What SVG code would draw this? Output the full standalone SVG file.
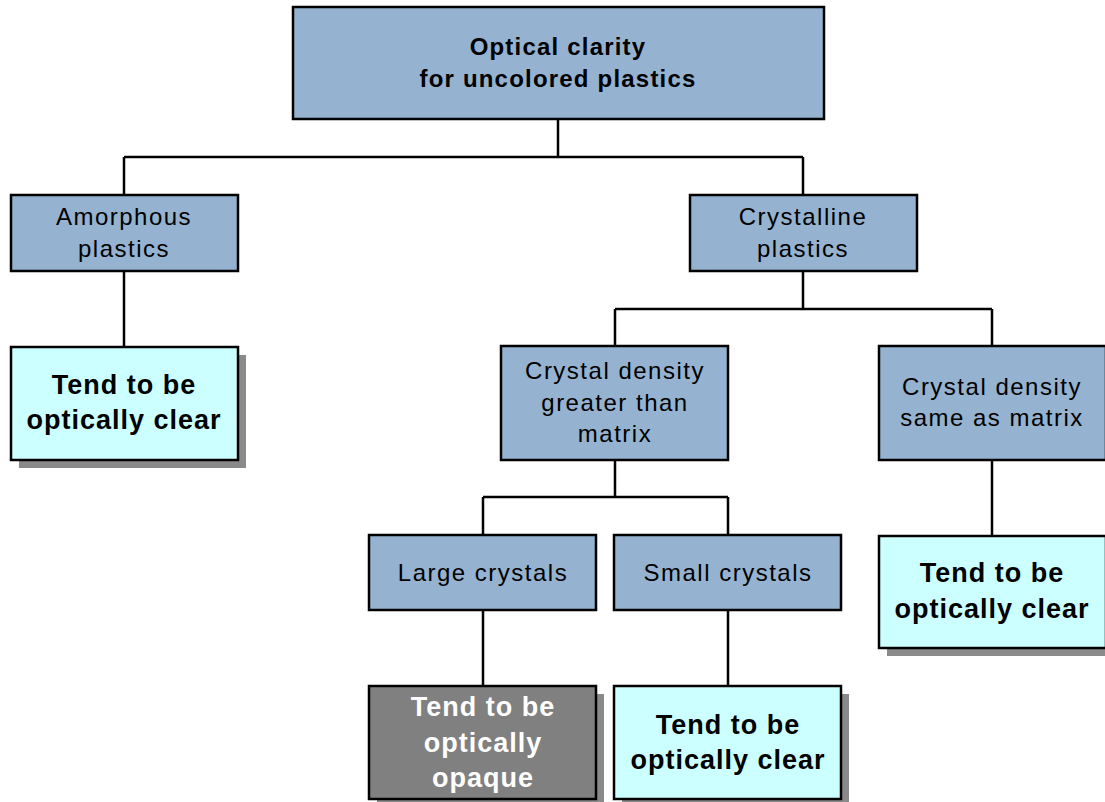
<svg xmlns="http://www.w3.org/2000/svg" width="1105" height="802" viewBox="0 0 1105 802">
<style>
.b{fill:#95b3d0;stroke:#000;stroke-width:2.5}
.c{fill:#ccffff;stroke:#000;stroke-width:2.5}
.o{fill:#808080;stroke:#000;stroke-width:2.5}
.s{fill:#8a8a8a}
.t{font-family:"Liberation Sans",Arial,sans-serif;font-size:24px;letter-spacing:1.5px;text-anchor:middle;fill:#000}
.tb{font-family:"Liberation Sans",Arial,sans-serif;font-size:24px;letter-spacing:1.2px;font-weight:bold;text-anchor:middle;fill:#000}
.tc{font-family:"Liberation Sans",Arial,sans-serif;font-size:27px;letter-spacing:1px;font-weight:bold;text-anchor:middle;fill:#000}
.tw{fill:#fff}
.l{fill:none;stroke:#000;stroke-width:2.5}
</style>
<rect width="1105" height="802" fill="#fff"/>
<g id="connectors">
<path class="l" d="M558 119V157M124 157H803M124 157V195M803 157V195"/>
<path class="l" d="M124 271V347"/>
<path class="l" d="M803 271V309M615 309H992M615 309V346M992 309V346"/>
<path class="l" d="M992 460V536"/>
<path class="l" d="M615 460V497M483 497H728M483 497V535M728 497V535"/>
<path class="l" d="M483 610V686M728 610V686"/>
</g>
<g id="root">
<rect class="b" x="293" y="7" width="531" height="112"/>
<text class="tb" x="558" y="55">Optical clarity</text>
<text class="tb" x="558" y="87">for uncolored plastics</text>
</g>
<g id="amorphous">
<rect class="b" x="11" y="195" width="227" height="76"/>
<text class="t" x="124" y="225">Amorphous</text>
<text class="t" x="124" y="257">plastics</text>
</g>
<g id="clear1">
<rect class="s" x="19" y="355" width="227" height="113"/>
<rect class="c" x="11" y="347" width="227" height="113"/>
<text class="tc" x="124" y="394">Tend to be</text>
<text class="tc" x="124" y="429">optically clear</text>
</g>
<g id="crystalline">
<rect class="b" x="690" y="195" width="227" height="76"/>
<text class="t" x="803" y="225">Crystalline</text>
<text class="t" x="803" y="257">plastics</text>
</g>
<g id="greater">
<rect class="b" x="501" y="346" width="227" height="114"/>
<text class="t" x="615" y="379">Crystal density</text>
<text class="t" x="615" y="411">greater than</text>
<text class="t" x="615" y="442">matrix</text>
</g>
<g id="same">
<rect class="b" x="879" y="346" width="227" height="114"/>
<text class="t" x="992" y="395">Crystal density</text>
<text class="t" x="992" y="426">same as matrix</text>
</g>
<g id="clear3">
<rect class="s" x="887" y="544" width="227" height="112"/>
<rect class="c" x="879" y="536" width="227" height="112"/>
<text class="tc" x="992" y="582">Tend to be</text>
<text class="tc" x="992" y="618">optically clear</text>
</g>
<g id="large">
<rect class="b" x="369" y="535" width="227" height="75"/>
<text class="t" x="483" y="581">Large crystals</text>
</g>
<g id="small">
<rect class="b" x="614" y="535" width="227" height="75"/>
<text class="t" x="728" y="581">Small crystals</text>
</g>
<g id="opaque">
<rect class="s" x="377" y="694" width="227" height="113"/>
<rect class="o" x="369" y="686" width="227" height="113"/>
<text class="tc tw" x="483" y="716">Tend to be</text>
<text class="tc tw" x="483" y="752">optically</text>
<text class="tc tw" x="483" y="787">opaque</text>
</g>
<g id="clear4">
<rect class="s" x="622" y="694" width="227" height="113"/>
<rect class="c" x="614" y="686" width="227" height="113"/>
<text class="tc" x="728" y="734">Tend to be</text>
<text class="tc" x="728" y="769">optically clear</text>
</g>
</svg>
